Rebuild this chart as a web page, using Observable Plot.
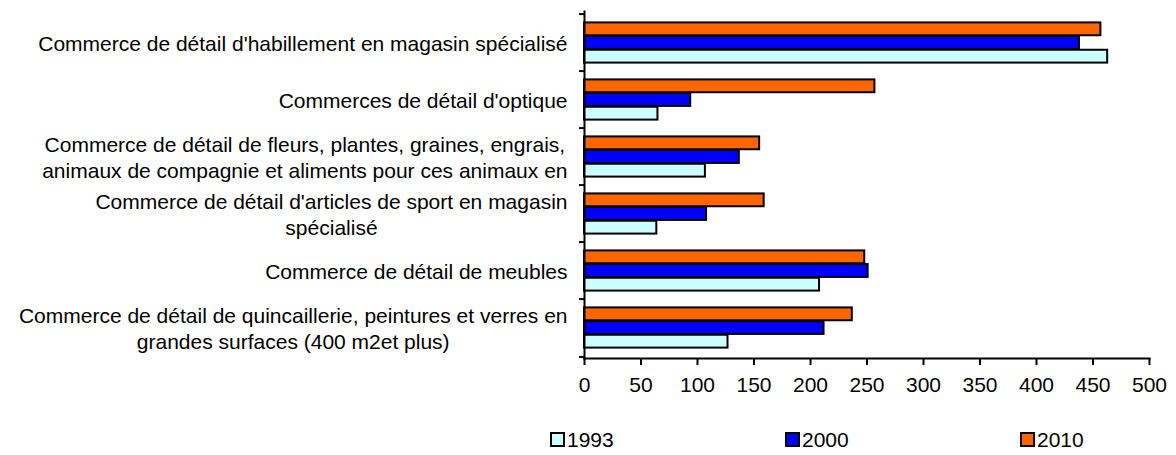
<!DOCTYPE html>
<html><head><meta charset="utf-8">
<script src="https://cdn.jsdelivr.net/npm/d3@7"></script>
<script src="https://cdn.jsdelivr.net/npm/@observablehq/plot@0.6"></script>
<style>
body{margin:0;background:#fff;font-family:"Liberation Sans",Arial,sans-serif;color:#000;}
#chart{width:1176px;}
div.lg-swatches{margin-left:551px;margin-top:13px;width:625px;white-space:nowrap;flex-wrap:nowrap;font-family:"Liberation Sans",Arial,sans-serif;font-size:21px;color:#000;}
div.lg-swatches span.lg-swatch{width:235px;margin-right:0;display:inline-flex;align-items:center;}
div.lg-swatches span.lg-swatch:last-child{width:auto;}
div.lg-swatches span.lg-swatch > svg{margin-right:3px;overflow:visible;}
div.lg-swatches span.lg-swatch > svg rect{stroke:#000;stroke-width:2px;}
</style></head>
<body><div id="chart"></div>
<script>
const categories = [
  "Commerce de détail d'habillement en magasin spécialisé",
  "Commerces de détail d'optique",
  "Commerce de détail de fleurs, plantes, graines, engrais, animaux de compagnie et aliments pour ces animaux en",
  "Commerce de détail d'articles de sport en magasin spécialisé",
  "Commerce de détail de meubles",
  "Commerce de détail de quincaillerie, peintures et verres en grandes surfaces (400 m2et plus)"
];
const labelLines = [
  "Commerce de détail d'habillement en magasin spécialisé",
  "Commerces de détail d'optique",
  "Commerce de détail de fleurs, plantes, graines, engrais,\nanimaux de compagnie et aliments pour ces animaux en",
  "Commerce de détail d'articles de sport en magasin\nspécialisé",
  "Commerce de détail de meubles",
  "Commerce de détail de quincaillerie, peintures et verres en\ngrandes surfaces (400 m2et plus)"
];
const years = ["1993", "2000", "2010"];
const values1993 = [463, 65, 107, 64, 208, 127];
const values2000 = [438, 94, 137, 108, 251, 212];
const values2010 = [457, 257, 155, 159, 248, 237];
const yearColors = ["#CCFFFF", "#0000FF", "#FF6600"];
const xTicks = [0, 50, 100, 150, 200, 250, 300, 350, 400, 450, 500];

const seriesValues = {"1993": values1993, "2000": values2000, "2010": values2010};
const rows = [];
years.forEach(yr => categories.forEach((c, i) => rows.push({category: c, year: yr, value: seriesValues[yr][i]})));

const W = 1176, H = 410, mTop = 11, mBottom = 52, mLeft = 584, mRight = 27;
const FS = 21;
const band = (H - mTop - mBottom) / categories.length;
const barH = 13.67;
const outer = (band - 3 * barH) / 2;
const stackOrder = ["2010", "2000", "1993"];

const ctx = document.createElement("canvas").getContext("2d");
ctx.font = `${FS}px "Liberation Sans"`;
const blockWidth = labelLines.map(s => Math.max(...s.split("\n").map(l => ctx.measureText(l).width)));

const barMarks = stackOrder.map((yr, k) => Plot.barX(rows.filter(d => d.year === yr), {
  y: "category", x: "value", fill: "year", stroke: "#000", strokeWidth: 2,
  insetTop: outer + k * barH, insetBottom: band - outer - (k + 1) * barH
}));

const labelMarks = categories.map((c, i) => Plot.text([c], {
  y: d => d, frameAnchor: "left", text: () => labelLines[i],
  textAnchor: "middle", dx: -(17 + blockWidth[i] / 2), lineHeight: 1.2,
  fontSize: FS, fill: "#000"
}));

const plot = Plot.plot({
  width: W, height: H,
  marginTop: mTop, marginBottom: mBottom, marginLeft: mLeft, marginRight: mRight,
  style: {fontFamily: '"Liberation Sans", Arial, sans-serif', fontSize: FS + "px", color: "#000", background: "#fff"},
  x: {domain: [0, 500]},
  y: {domain: categories, padding: 0},
  color: {domain: years, range: yearColors},
  marks: [
    ...barMarks,
    Plot.frame({anchor: "left", strokeWidth: 2, stroke: "#000"}),
    Plot.frame({anchor: "bottom", strokeWidth: 2, stroke: "#000"}),
    Plot.axisX({ticks: xTicks, tickSize: 7, tickPadding: 12, label: null, strokeWidth: 2, fontSize: FS}),
    Plot.axisY({tickSize: 5, tickFormat: () => "", dy: -band / 2, label: null, strokeWidth: 2}),
    Plot.axisY({ticks: [categories[categories.length - 1]], tickSize: 5, tickFormat: () => "", dy: band / 2, label: null, strokeWidth: 2}),
    ...labelMarks
  ]
});
document.getElementById("chart").appendChild(plot);
const legend = plot.legend("color", {swatchSize: 13, className: "lg"});
document.getElementById("chart").appendChild(legend);
</script>
</body></html>
